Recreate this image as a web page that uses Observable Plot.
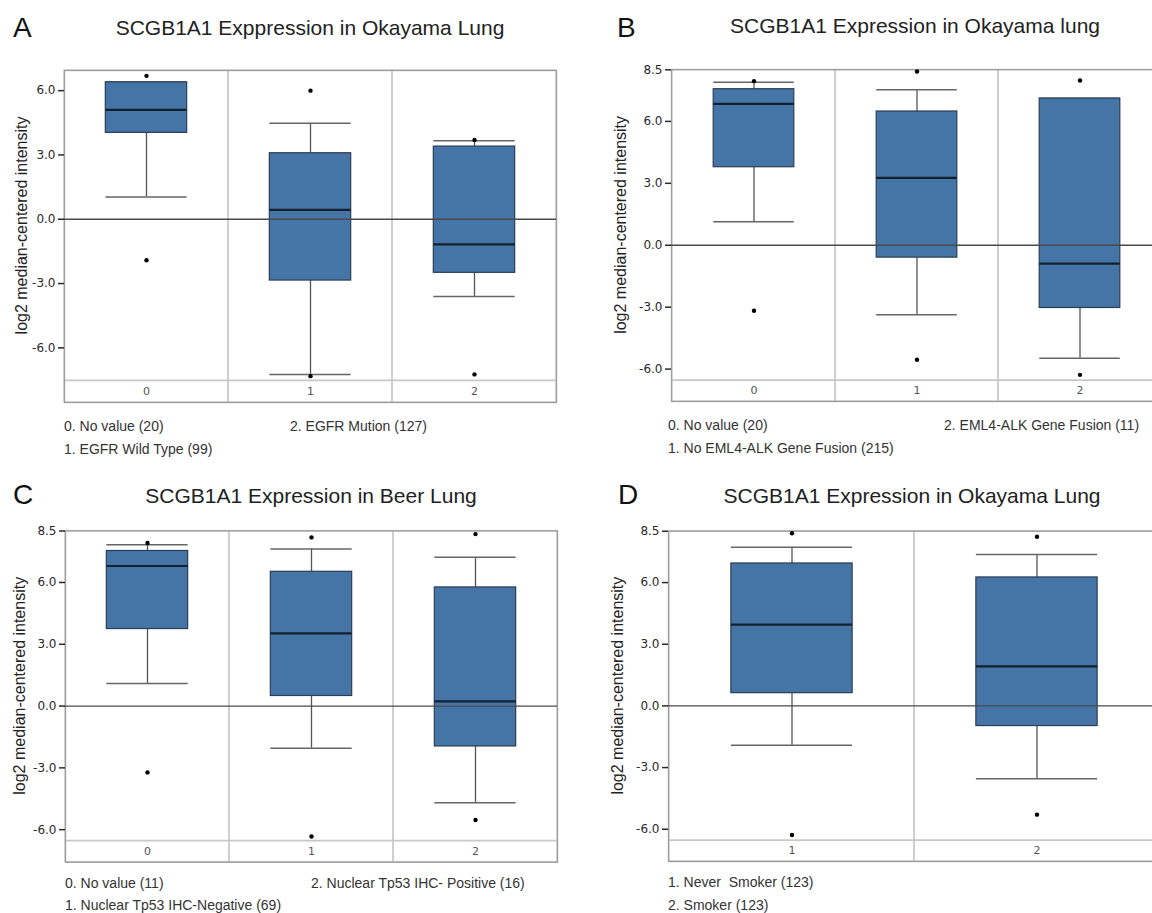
<!DOCTYPE html>
<html><head><meta charset="utf-8">
<script src="https://cdn.jsdelivr.net/npm/d3@7"></script>
<script src="https://cdn.jsdelivr.net/npm/@observablehq/plot@0.6"></script>
<style>
html,body{margin:0;padding:0;background:#fff;overflow:hidden;width:1152px;height:913px;}
#root{position:relative;width:1152px;height:913px;overflow:hidden;font-family:"Liberation Sans",Arial,sans-serif;}
.abs{position:absolute;line-height:1;white-space:pre;}
.letter{font-size:28px;color:#111;}
.title{font-size:21px;color:#222;text-align:center;}
.leg{font-size:14px;color:#333;}
svg.panel{position:absolute;}
</style></head><body><div id="root"></div>
<script>
// ---------- DATA ----------
const yLabel = "log2 median-centered intensity";

// Panel A
const aTitle = "SCGB1A1 Exppression in Okayama Lung";
const aCats = ["0", "1", "2"];
const aLo  = [1.04, -7.24, -3.60];
const aQ1  = [4.03, -2.86, -2.50];
const aMed = [5.10, 0.44, -1.17];
const aQ3  = [6.39, 3.08, 3.39];
const aHi  = [6.39, 4.48, 3.66];
const aOutCat = ["0", "0", "1", "1", "2", "2"];
const aOutVal = [6.69, -1.91, 6.00, -7.32, 3.70, -7.24];
const aTicks = [6, 3, 0, -3, -6];
const aLegend = ["0. No value (20)", "1. EGFR Wild Type (99)", "2. EGFR Mution (127)"];

// Panel B
const bTitle = "SCGB1A1 Expression in Okayama lung";
const bCats = ["0", "1", "2"];
const bLo  = [1.14, -3.37, -5.48];
const bQ1  = [3.78, -0.60, -3.04];
const bMed = [6.85, 3.26, -0.89];
const bQ3  = [7.56, 6.48, 7.11];
const bHi  = [7.90, 7.53, 7.11];
const bOutCat = ["0", "0", "1", "1", "2", "2"];
const bOutVal = [7.95, -3.17, 8.42, -5.55, 7.98, -6.28];
const bTicks = [8.5, 6, 3, 0, -3, -6];
const bLegend = ["0. No value (20)", "1. No EML4-ALK Gene Fusion (215)", "2. EML4-ALK Gene Fusion (11)"];

// Panel C
const cTitle = "SCGB1A1 Expression in Beer Lung";
const cCats = ["0", "1", "2"];
const cLo  = [1.10, -2.05, -4.69];
const cQ1  = [3.74, 0.49, -1.96];
const cMed = [6.80, 3.53, 0.23];
const cQ3  = [7.53, 6.52, 5.76];
const cHi  = [7.83, 7.63, 7.22];
const cOutCat = ["0", "0", "1", "1", "2", "2"];
const cOutVal = [7.92, -3.22, 8.19, -6.33, 8.35, -5.53];
const cTicks = [8.5, 6, 3, 0, -3, -6];
const cLegend = ["0. No value (11)", "1. Nuclear Tp53 IHC-Negative (69)", "2. Nuclear Tp53 IHC- Positive (16)"];

// Panel D
const dTitle = "SCGB1A1 Expression in Okayama Lung";
const dCats = ["1", "2"];
const dLo  = [-1.92, -3.54];
const dQ1  = [0.62, -0.98];
const dMed = [3.95, 1.92];
const dQ3  = [6.93, 6.25];
const dHi  = [7.72, 7.37];
const dOutCat = ["1", "1", "2", "2"];
const dOutVal = [8.40, -6.28, 8.23, -5.29];
const dTicks = [8.5, 6, 3, 0, -3, -6];
const dLegend = ["1. Never  Smoker (123)", "2. Smoker (123)"];

// ---------- DRAWING ----------
const root = document.getElementById("root");

function addText(cls, text, left, top, width) {
  const el = document.createElement("div");
  el.className = "abs " + cls;
  el.textContent = text;
  el.style.left = left + "px";
  el.style.top = top + "px";
  if (width != null) el.style.width = width + "px";
  root.appendChild(el);
}

function panel(d, L) {
  const rows = d.cats.map((c, i) => ({c, lo: d.lo[i], q1: d.q1[i], med: d.med[i], q3: d.q3[i], hi: d.hi[i]}));
  const outs = d.outCat.map((c, i) => ({c, v: d.outVal[i]}));
  const bw = (L.width - L.ml - L.mr) / d.cats.length;
  const inset = bw * 0.252;
  const [ymin, ymax] = L.domain;
  const svg = Plot.plot({
    width: L.width, height: L.height,
    marginTop: L.mt, marginBottom: L.mb, marginLeft: L.ml, marginRight: L.mr,
    style: {fontFamily: "DejaVu Sans", background: "transparent", overflow: "visible"},
    x: {type: "band", domain: d.cats, padding: 0, axis: null},
    y: {domain: L.domain, axis: null},
    marks: [
      Plot.barY(d.cats, {x: c => c, y1: ymin, y2: ymax, fill: "none", stroke: "#c6c6c6", strokeWidth: 1.2}),
      Plot.ruleY([L.strip], {stroke: "#c8c8c8", strokeWidth: 1.8}),
      Plot.frame({stroke: "#9c9c9c", strokeWidth: 1.3}),
      Plot.ruleX(rows, {x: "c", y1: "q3", y2: "hi", stroke: "#555", strokeWidth: 1.3}),
      Plot.ruleX(rows, {x: "c", y1: "lo", y2: "q1", stroke: "#555", strokeWidth: 1.3}),
      Plot.tickY(rows, {x: "c", y: "hi", insetLeft: inset, insetRight: inset, stroke: "#666", strokeWidth: 1.5}),
      Plot.tickY(rows, {x: "c", y: "lo", insetLeft: inset, insetRight: inset, stroke: "#666", strokeWidth: 1.5}),
      Plot.barY(rows, {x: "c", y1: "q1", y2: "q3", insetLeft: inset, insetRight: inset, fill: "#4575a7", stroke: "#2b3d52", strokeWidth: 1.2}),
      Plot.ruleY([0], {stroke: "#4a4a4a", strokeWidth: 1.3}),
      Plot.tickY(rows, {x: "c", y: "med", insetLeft: inset, insetRight: inset, stroke: "#13202e", strokeWidth: 2.2}),
      Plot.dot(outs, {x: "c", y: "v", r: 2.2, fill: "#000", stroke: null}),
      Plot.text(d.cats, {x: c => c, y: (L.strip + ymin) / 2, fontSize: 11, fill: "#555"}),
      Plot.axisY({ticks: d.ticks, tickFormat: v => v.toFixed(1), tickSize: 6, tickPadding: 3, fontSize: 12, label: null, color: "#2a2a2a", strokeWidth: 1.5}),
      Plot.text([yLabel], {frameAnchor: "left", textAnchor: "middle", y: (ymax + L.strip) / 2, rotate: -90, dx: L.labelDx, fontSize: 16, fontFamily: "Liberation Sans, Arial, sans-serif", fill: "#222"})
    ]
  });
  svg.classList.add("panel");
  svg.style.left = L.left + "px";
  svg.style.top = L.top + "px";
  root.appendChild(svg);
}

// Panel A
panel({cats: aCats, lo: aLo, q1: aQ1, med: aMed, q3: aQ3, hi: aHi, outCat: aOutCat, outVal: aOutVal, ticks: aTicks},
      {left: 0, top: 60, width: 576, height: 350, mt: 10, mb: 8, ml: 64, mr: 20, domain: [-8.55, 6.94], strip: -7.52, labelDx: -43});
addText("letter", "A", 13, 14);
addText("title", aTitle, 64, 17, 492);
addText("leg", aLegend[0], 64, 419);
addText("leg", aLegend[2], 290, 419);
addText("leg", aLegend[1], 64, 442);

// Panel B
panel({cats: bCats, lo: bLo, q1: bQ1, med: bMed, q3: bQ3, hi: bHi, outCat: bOutCat, outVal: bOutVal, ticks: bTicks},
      {left: 576, top: 60, width: 600, height: 350, mt: 9.3, mb: 9, ml: 95, mr: 14.5, domain: [-7.57, 8.5], strip: -6.53, labelDx: -51});
addText("letter", "B", 617, 14);
addText("title", bTitle, 671, 15, 488);
addText("leg", bLegend[0], 668, 418);
addText("leg", bLegend[2], 944, 418);
addText("leg", bLegend[1], 668, 441);

// Panel C
panel({cats: cCats, lo: cLo, q1: cQ1, med: cMed, q3: cQ3, hi: cHi, outCat: cOutCat, outVal: cOutVal, ticks: cTicks},
      {left: 0, top: 520, width: 576, height: 350, mt: 10.5, mb: 8.3, ml: 65, mr: 19, domain: [-7.58, 8.5], strip: -6.53, labelDx: -45.5});
addText("letter", "C", 13, 481);
addText("title", cTitle, 65, 485, 492);
addText("leg", cLegend[0], 65, 876);
addText("leg", cLegend[2], 311, 876);
addText("leg", cLegend[1], 65, 898);

// Panel D
panel({cats: dCats, lo: dLo, q1: dQ1, med: dMed, q3: dQ3, hi: dHi, outCat: dOutCat, outVal: dOutVal, ticks: dTicks},
      {left: 576, top: 520, width: 600, height: 350, mt: 10.7, mb: 9, ml: 92, mr: 17, domain: [-7.57, 8.5], strip: -6.53, labelDx: -51});
addText("letter", "D", 618, 481);
addText("title", dTitle, 668, 485, 488);
addText("leg", dLegend[0], 668, 875);
addText("leg", dLegend[1], 668, 898);
</script></body></html>
